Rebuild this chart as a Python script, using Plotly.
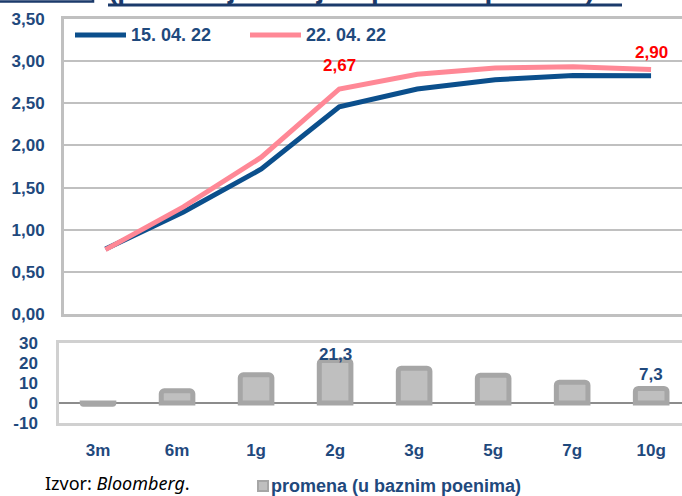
import plotly.graph_objects as go

# ---- data ----
categories = ["3m", "6m", "1g", "2g", "3g", "5g", "7g", "10g"]
series_1504 = [0.77, 1.21, 1.72, 2.457, 2.67, 2.78, 2.83, 2.827]
series_2204 = [0.764, 1.27, 1.86, 2.67, 2.844, 2.919, 2.934, 2.90]
change_bp = [-0.6, 6.1, 14.1, 21.3, 17.4, 13.9, 10.4, 7.3]
line_label_idx = [3, 7]
bar_label_idx = [3, 7]
y2_tickvals = [-10, 0, 10, 20, 30]
y2_ticktext = ["-10", "0", "10", "20", "30"]
name_1504 = "15. 04. 22"
name_2204 = "22. 04. 22"
name_bar = "promena (u baznim poenima)"
title_text = "(poređenje stanja s početka perioda)"
source_text = "Izvor: <i>Bloomberg</i>."

W, H = 682, 496
def px(x):
    return x / W
def py(y):
    return 1 - y / H

BLUE = "#0B4F8C"
PINK = "#FF8896"
NAVY = "#1F497D"
DARKNAVY = "#1B3A6B"
GRID = "#C0C0C0"
FONT = "Liberation Sans"

fig = go.Figure()
fig.add_trace(go.Scatter(x=categories, y=series_1504, mode="lines", name=name_1504,
                         line=dict(color=BLUE, width=5), xaxis="x", yaxis="y",
                         showlegend=False))
fig.add_trace(go.Scatter(x=categories, y=series_2204, mode="lines", name=name_2204,
                         line=dict(color=PINK, width=5), xaxis="x", yaxis="y",
                         showlegend=False))
fig.add_trace(go.Bar(x=categories, y=change_bp, name=name_bar, width=0.4,
                     marker=dict(color="#BFBFBF", line=dict(color="#A6A6A6", width=5),
                                 cornerradius=3),
                     xaxis="x2", yaxis="y2", showlegend=False))

tickfont = dict(family=FONT, size=17, color=NAVY, weight="bold")
legfont = dict(family=FONT, size=18, color=NAVY, weight="bold")

annotations = []
line_shifts = [23, 17]
for k, i in enumerate(line_label_idx):
    annotations.append(dict(x=categories[i], y=series_2204[i], xref="x", yref="y",
                            text=f"{series_2204[i]:.2f}".replace(".", ","),
                            showarrow=False, yanchor="middle", yshift=line_shifts[k],
                            font=dict(family=FONT, size=17, color="#FF0000", weight="bold")))
bar_shifts = [6, 14]
for k, i in enumerate(bar_label_idx):
    annotations.append(dict(x=categories[i], y=change_bp[i], xref="x2", yref="y2",
                            text=f"{change_bp[i]:.1f}".replace(".", ","),
                            showarrow=False, yanchor="middle", yshift=bar_shifts[k],
                            font=dict(family=FONT, size=17, color=NAVY, weight="bold")))
# legend texts
annotations.append(dict(x=px(129), y=py(35), xref="paper", yref="paper", xanchor="left",
                        yanchor="middle", text=name_1504, showarrow=False, font=legfont))
annotations.append(dict(x=px(304), y=py(35), xref="paper", yref="paper", xanchor="left",
                        yanchor="middle", text=name_2204, showarrow=False, font=legfont))
annotations.append(dict(x=px(269), y=py(485.5), xref="paper", yref="paper", xanchor="left",
                        yanchor="middle", text=name_bar, showarrow=False,
                        font=dict(family=FONT, size=18, color=NAVY, weight="bold")))
annotations.append(dict(x=px(43), y=py(483), xref="paper", yref="paper", xanchor="left",
                        yanchor="middle", text=source_text, showarrow=False,
                        font=dict(family="Noto Sans", size=18, color="#000000")))
# cut-off title (only its lower edge is visible, as in the source)
annotations.append(dict(x=px(106), y=py(6.5), xref="paper", yref="paper", xanchor="left",
                        yanchor="bottom", text=title_text, showarrow=False,
                        font=dict(family=FONT, size=28, color=DARKNAVY, weight="bold")))

shapes = [
    dict(type="line", xref="paper", yref="paper", x0=px(75), x1=px(126), y0=py(35), y1=py(35),
         line=dict(color=BLUE, width=5)),
    dict(type="line", xref="paper", yref="paper", x0=px(250), x1=px(301), y0=py(35), y1=py(35),
         line=dict(color=PINK, width=5)),
    dict(type="rect", xref="paper", yref="paper", x0=px(258), x1=px(268), y0=py(491), y1=py(481),
         fillcolor="#BFBFBF", line=dict(color="#A6A6A6", width=2)),
    dict(type="line", xref="paper", yref="paper", x0=px(108), x1=px(622), y0=py(5), y1=py(5),
         line=dict(color=DARKNAVY, width=3)),
    dict(type="rect", xref="paper", yref="paper", x0=-0.02, x1=px(93), y0=py(1.5), y1=1.1,
         line=dict(color=DARKNAVY, width=2.5)),
]

fig.update_layout(
    template="none",
    width=W, height=H,
    margin=dict(l=0, r=0, t=0, b=0, pad=0, autoexpand=False),
    paper_bgcolor="white", plot_bgcolor="white",
    separators=",.",
    showlegend=False,
    xaxis=dict(domain=[px(64), 1], range=[-0.532, 7.397], type="category",
               showticklabels=False, showgrid=False, zeroline=False, automargin=False,
               showline=True, mirror=True, linecolor=GRID, linewidth=3, anchor="y"),
    yaxis=dict(domain=[py(314), py(19)], range=[0, 3.5], dtick=0.5, tickformat=".2f",
               showgrid=True, gridcolor=GRID, gridwidth=2, zeroline=False, automargin=False,
               showline=True, linecolor=GRID, linewidth=3, ticks="",
               ticklabelstandoff=13, tickfont=tickfont, anchor="x"),
    xaxis2=dict(domain=[px(59), 1], range=[-0.494, 7.39], type="category",
                showgrid=False, zeroline=False, showline=True, mirror=True, automargin=False,
                linecolor="#D0D0D0", linewidth=2.5, ticks="", ticklabelstandoff=10,
                tickfont=tickfont, anchor="y2"),
    yaxis2=dict(domain=[py(423), py(343)], range=[-10, 30], tickvals=y2_tickvals,
                ticktext=y2_ticktext, showgrid=False, zeroline=True, automargin=False,
                zerolinecolor="#8C8C8C", zerolinewidth=2, showline=True,
                linecolor="#D0D0D0", linewidth=2.5, ticks="", ticklabelstandoff=15,
                tickfont=tickfont, anchor="x2"),
    annotations=annotations,
    shapes=shapes,
)

fig.write_html("out.html")
